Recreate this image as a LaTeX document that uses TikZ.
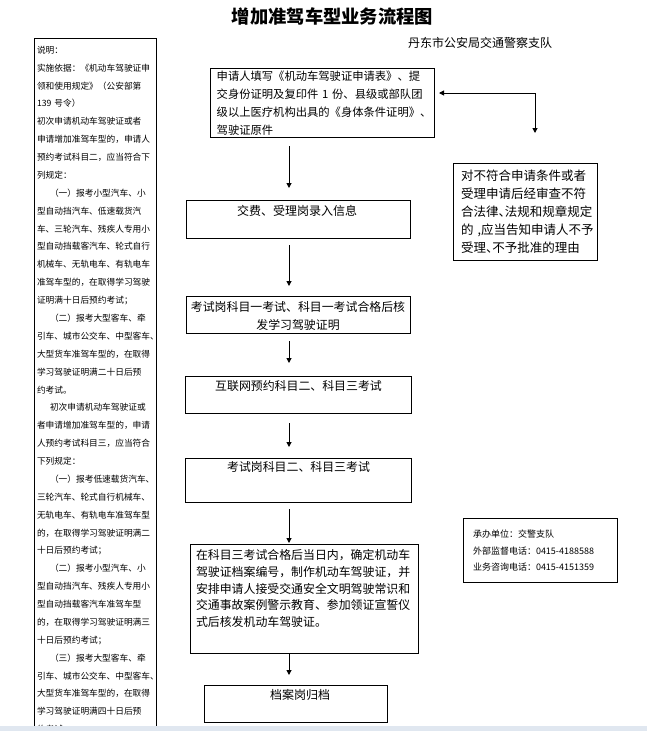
\documentclass[tikz,border=0pt]{standalone}
\usepackage{fontspec}
\setmainfont{Noto Sans CJK SC}
\newfontfamily\cjkh[RawFeature=+halt]{Noto Sans CJK SC}
\usetikzlibrary{arrows.meta}
\definecolor{band}{RGB}{224,231,240}
\newcommand{\fs}[2]{\fontsize{#1pt}{#2pt}\selectfont}
\begin{document}
\begin{tikzpicture}[x=1pt,y=-1pt,
  box/.style={draw=black,line width=1pt,inner sep=0pt,anchor=north west},
  txt/.style={inner sep=0pt,text=black},
  arr/.style={draw=black,line width=1pt,-{Triangle[length=5pt,width=5pt]}},
]
\useasboundingbox (0,0) rectangle (647,731);
\fill[white] (0,0) rectangle (647,731);

% title
\node[txt,font=\fs{18.3}{20}\bfseries] (title) at (332.5,16) {增加准驾车型业务流程图};
\node[txt,font=\fs{12}{14}] (sub) at (480,43) {丹东市公安局交通警察支队};

% left column
\draw[line width=1pt] (34,731) -- (34,38) -- (156,38) -- (156,731);
\node[txt,text width=118pt,align=left,font=\fs{8.7}{17.88}] (lt) at (96,389.7) {说明：\\
实施依据：《机动车驾驶证申\\
领和使用规定》（公安部第\\
139 号令）\\
初次申请机动车驾驶证或者\\
申请增加准驾车型的，申请人\\
预约考试科目二，应当符合下\\
列规定：\\
\hspace*{1.5em}（一）报考小型汽车、小\\
型自动挡汽车、低速载货汽\\
车、三轮汽车、残疾人专用小\\
型自动挡载客汽车、轮式自行\\
机械车、无轨电车、有轨电车\\
准驾车型的，在取得学习驾驶\\
证明满十日后预约考试；\\
\hspace*{1.5em}（二）报考大型客车、牵\\
引车、城市公交车、中型客车、\\
大型货车准驾车型的，在取得\\
学习驾驶证明满二十日后预\\
约考试。\\
\hspace*{1.5em}初次申请机动车驾驶证或\\
者申请增加准驾车型的，申请\\
人预约考试科目三，应当符合\\
下列规定：\\
\hspace*{1.5em}（一）报考低速载货汽车、\\
三轮汽车、轮式自行机械车、\\
无轨电车、有轨电车准驾车型\\
的，在取得学习驾驶证明满二\\
十日后预约考试；\\
\hspace*{1.5em}（二）报考小型汽车、小\\
型自动挡汽车、残疾人专用小\\
型自动挡载客汽车准驾车型\\
的，在取得学习驾驶证明满三\\
十日后预约考试；\\
\hspace*{1.5em}（三）报考大型客车、牵\\
引车、城市公交车、中型客车、\\
大型货车准驾车型的，在取得\\
学习驾驶证明满四十日后预\\
约考试。};

% boxes
\node[box,minimum width=224pt,minimum height=69pt] (b1) at (210,68) {};
\node[box,minimum width=224pt,minimum height=38pt] (b2) at (186,200) {};
\node[box,minimum width=224pt,minimum height=37pt] (b3) at (186,296) {};
\node[box,minimum width=226pt,minimum height=37pt] (b4) at (185,376) {};
\node[box,minimum width=226pt,minimum height=44pt] (b5) at (185,458) {};
\node[box,minimum width=228pt,minimum height=109pt] (b6) at (190,544) {};
\node[box,minimum width=183pt,minimum height=37pt] (b7) at (204,685) {};
\node[box,minimum width=144pt,minimum height=97pt] (rb) at (453,163) {};
\node[box,minimum width=154pt,minimum height=64pt] (cb) at (463,518) {};

% texts
\node[txt,text width=210pt,align=left,font=\fs{11.3}{18.1}] (t1) at (321.7,102.9) {申请人填写《机动车驾驶证申请表》、提\\
交身份证明及复印件 1 份、县级或部队团\\
级以上医疗机构出具的《身体条件证明》、\\
驾驶证原件};
\node[txt,font=\fs{12}{14}] (t2) at (297,211) {交费、受理岗录入信息};
\node[txt,align=center,font=\fs{11.9}{18}] (t3) at (298,316) {考试岗科目一考试、科目一考试合格后核\\发学习驾驶证明};
\node[txt,font=\fs{11.9}{14}] (t4) at (298.5,386) {互联网预约科目二、科目三考试};
\node[txt,font=\fs{11.9}{14}] (t5) at (298.5,467) {考试岗科目二、科目三考试};
\node[txt,text width=218pt,align=left,font=\fs{11.9}{16.7}] (t6) at (305,588.5) {在科目三考试合格后当日内，确定机动车\\
驾驶证档案编号，制作机动车驾驶证，并\\
安排申请人接受交通安全文明驾驶常识和\\
交通事故案例警示教育、参加领证宣誓仪\\
式后核发机动车驾驶证。};
\node[txt,font=\fs{12}{14}] (t7) at (300,695) {档案岗归档};
\node[txt,text width=134pt,align=left,font=\cjkh\fs{12.5}{17.8}] (tr) at (528,211.7) {对不符合申请条件或者\\
受理申请后经审查不符\\
合法律、法规和规章规定\\
的 ,应当告知申请人不予\\
受理、不予批准的理由};
\node[txt,text width=140pt,align=left,font=\fs{9}{16.7}] (tc) at (543,550.7) {承办单位：交警支队\\
外部监督电话：0415-4188588\\
业务咨询电话：0415-4151359};

% connectors
\coordinate (ax) at (289,0);
\coordinate (bx) at (535,93);
\draw[arr,shorten <=8pt,shorten >=12pt] (b1.south -| ax) -- (b2.north -| ax);
\draw[arr,shorten <=6pt,shorten >=10pt] (b2.south -| ax) -- (b3.north -| ax);
\draw[arr,shorten <=7pt,shorten >=13pt] (b3.south -| ax) -- (b4.north -| ax);
\draw[arr,shorten <=9pt,shorten >=11pt] (b4.south -| ax) -- (b5.north -| ax);
\draw[arr,shorten <=6pt,shorten >=1pt] (b5.south -| ax) -- (b6.north -| ax);
\draw[arr,shorten >=10pt] (b6.south -| ax) -- (b7.north -| ax);
\draw[arr,shorten >=4pt] (bx) -- (b1.east |- bx);
\draw[arr,shorten >=30pt] (bx) -- (rb.north -| bx);

% bottom band
\fill[band] (0,726) rectangle (647,731);
\end{tikzpicture}
\end{document}
